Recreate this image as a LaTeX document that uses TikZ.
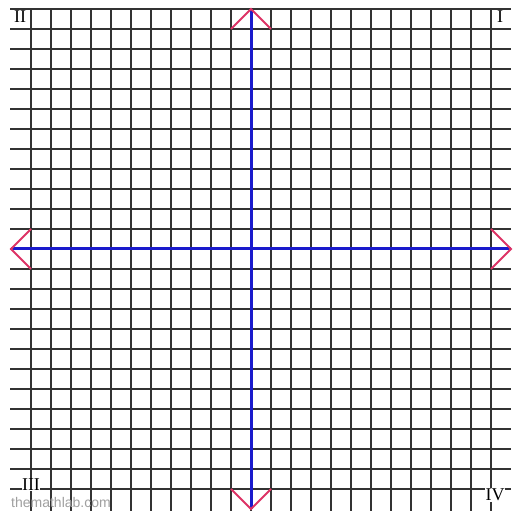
\documentclass[tikz,border=0pt]{standalone}
\usepackage{fontspec}
\setmainfont{Liberation Serif}
\setsansfont{Liberation Sans}
\usepackage{xcolor}
\usepackage{tikz}
\usetikzlibrary{calc}
\definecolor{gridgray}{HTML}{333333}
\definecolor{axisblue}{HTML}{1A1ACC}
\definecolor{tipred}{HTML}{DD3366}
\definecolor{creditgray}{HTML}{A0A0A0}

\begin{document}
\begin{tikzpicture}[
        x=1pt, y=1pt,
        gridline/.style={draw=gridgray, line width=1.7pt},
        axis/.style={draw=axisblue, line width=3pt},
        chevron/.style={draw=tipred, line width=1.8pt, line join=miter},
        quadlabel/.style={font=\fontsize{18}{18}\selectfont, fill=white, inner sep=0.5pt},
        credit/.style={font=\sffamily\fontsize{14}{14}\selectfont, text=creditgray, inner sep=0pt}
    ]
    \useasboundingbox (0,0) rectangle (517,511);
    \fill[white] (0,0) rectangle (517,511);

    % grid
    \foreach \y in {22,42,...,502}
        \draw[gridline] (10,\y) -- (511,\y);
    \foreach \x in {31,51,...,491}
        \draw[gridline] (\x,0) -- (\x,502);

    % axes
    \coordinate (top) at (251,502);
    \coordinate (bottom) at (251,2);
    \coordinate (left) at (11,262);
    \coordinate (right) at (511,262);
    \draw[axis] (bottom) -- (top);
    \draw[axis] (left) -- (right);

    % arrow heads
    \draw[chevron] ($(top)+(-20,-20)$) -- (top) -- ($(top)+(20,-20)$);
    \draw[chevron] ($(bottom)+(-20,20)$) -- (bottom) -- ($(bottom)+(20,20)$);
    \draw[chevron] ($(left)+(20,20)$) -- (left) -- ($(left)+(20,-20)$);
    \draw[chevron] ($(right)+(-20,20)$) -- (right) -- ($(right)+(-20,-20)$);

    \node[quadlabel] (q2) at (20,494) {II};
    \node[quadlabel] (q1) at (500,494) {I};
    \node[quadlabel] (q3) at (31,26) {III};
    \node[quadlabel] (q4) at (495,16) {IV};
    \node[credit] (site) at (61,9) {themathlab.com};
\end{tikzpicture}
\end{document}
